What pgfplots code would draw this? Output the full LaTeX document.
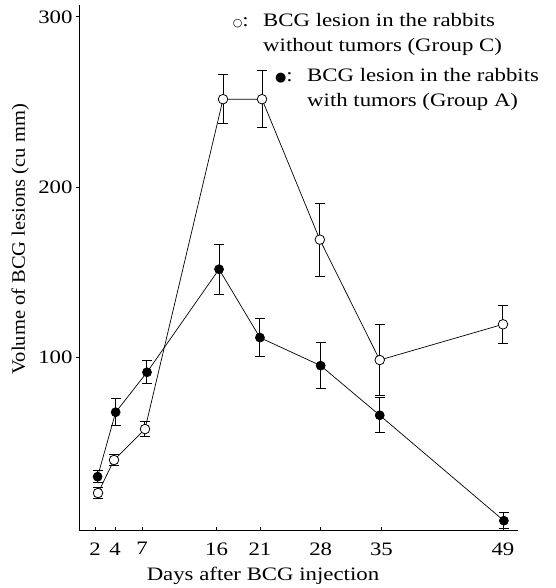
\documentclass[border=0pt]{standalone}
\usepackage{fontspec}
\setmainfont{Liberation Serif}[FakeStretch=1.2]
\newfontfamily\ylabfont{Liberation Serif}[FakeStretch=1.08]
\newfontfamily\sym{DejaVu Sans}
\usepackage{pgfplots}
\pgfplotsset{compat=1.18}
\pgfplotstableread{
x y e
2.35 20 3.5
4.19 39.4 3.5
7.76 57.6 4.2
16.75 251.6 14.5
21.24 251.6 16.8
27.9 169 21.5
34.8 98.2 20.7
49 119.2 11
}\groupC
\pgfplotstableread{
x y e
2.3 29.6 3.5
4.38 67.5 8
7.99 91 6.8
16.29 151.6 14.6
21 111.4 11.3
28.0 94.9 13.6
34.8 65.7 10.2
49.1 3.7 4.8
}\groupA
\begin{document}
\fontsize{19}{23}\selectfont
\begin{tikzpicture}[font=\fontsize{19}{23}\selectfont]
\useasboundingbox (-79pt,-58pt) rectangle (476pt,530pt);
\begin{axis}[
  at={(0pt,0pt)}, anchor=south west,
  scale only axis, width=439pt, height=525pt,
  xmin=0.157, xmax=50.73, ymin=-1.76, ymax=307,
  axis x line*=bottom, axis y line*=left,
  axis line style={-, line width=0.9pt},
  clip=false,
  xtick={2,4.3,7.41,16,21,28,35,49},
  xticklabels={2,4,7,16,21,28,35,49},
  ytick={100,200,300},
  yticklabels={100,200,300},
  /pgf/number format/assume math mode=true,
  tick align=inside,
  major tick length=3pt,
  tick style={line width=0.8pt, black},
  ytick style={xshift=-3pt},
  xticklabel style={yshift=-6pt},
  xlabel={Days after BCG injection},
  xlabel style={at={(axis description cs:0.419,0)}, anchor=base, yshift=-50pt},
  ylabel={\ylabfont Volume of BCG lesions (cu mm)},
  ylabel style={at={(axis description cs:0,0.554)}, anchor=base, yshift=54pt},
]
% Group C (open circles)
\addplot[black, line width=0.7pt, mark=*, mark size=4.8pt,
  mark options={fill=white, line width=0.8pt},
  error bars/.cd, y dir=both, y explicit,
  error mark=|,
  error mark options={draw=black, line width=1pt, mark size=5pt},
  error bar style={line width=1pt}]
  table[x=x, y=y, y error=e] {\groupC};
% Group A (filled circles)
\addplot[black, line width=0.7pt, mark=*, mark size=4.5pt,
  mark options={fill=black},
  error bars/.cd, y dir=both, y explicit,
  error mark=|,
  error mark options={draw=black, line width=1pt, mark size=5pt},
  error bar style={line width=1pt}]
  table[x=x, y=y, y error=e] {\groupA};
\end{axis}
% legend text
\node[anchor=base west, inner sep=0pt] at (184pt,503pt) {BCG lesion in the rabbits};
\node[anchor=base west, inner sep=0pt] at (184pt,478pt) {without tumors (Group C)};
\node[anchor=base west, inner sep=0pt] at (228pt,448pt) {BCG lesion in the rabbits};
\node[anchor=base west, inner sep=0pt] at (228pt,423pt) {with tumors (Group A)};
\node[anchor=base east, inner sep=0pt] at (170pt,503pt) {{\sym\fontsize{11}{11}\selectfont ○}:};
\node[anchor=base east, inner sep=0pt] at (214pt,448pt) {{\sym\fontsize{13}{13}\selectfont ●}:};
\end{tikzpicture}
\end{document}
